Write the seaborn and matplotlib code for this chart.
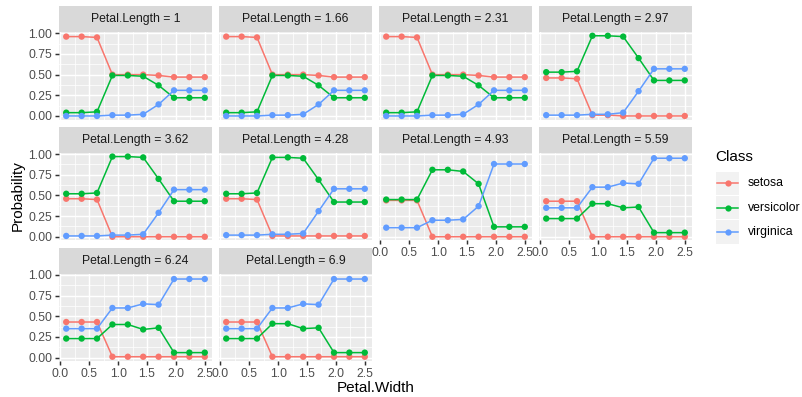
import pandas as pd
import seaborn as sns
import matplotlib.pyplot as plt
from matplotlib.patches import Rectangle
from matplotlib.lines import Line2D
from matplotlib.ticker import MultipleLocator, FormatStrFormatter

plt.rcParams['font.family'] = ['Liberation Sans', 'DejaVu Sans']

petal_width = [0.1, 0.367, 0.633, 0.9, 1.167, 1.433, 1.7, 1.967, 2.233, 2.5]
petal_length = ["1", "1.66", "2.31", "2.97", "3.62", "4.28", "4.93", "5.59", "6.24", "6.9"]
classes = ["setosa", "versicolor", "virginica"]
colors = ["#F8766D", "#00BA38", "#619CFF"]

# one row per Petal.Length panel, values along petal_width
setosa = [
    [.96, .96, .95, .50, .50, .50, .49, .47, .47, .47],
    [.96, .96, .95, .50, .50, .50, .49, .47, .47, .47],
    [.96, .96, .95, .50, .50, .50, .49, .47, .47, .47],
    [.46, .46, .45, .01, .01, .00, .00, .00, .00, .00],
    [.46, .46, .45, .00, .00, .00, .00, .00, .00, .00],
    [.46, .46, .45, .01, .01, .01, .01, .01, .01, .01],
    [.44, .44, .44, .00, .00, .00, .00, .00, .00, .00],
    [.43, .43, .43, .00, .00, .00, .00, .00, .00, .00],
    [.43, .43, .43, .01, .01, .01, .01, .01, .01, .01],
    [.43, .43, .43, .01, .01, .01, .01, .01, .01, .01],
]
versicolor = [
    [.04, .04, .05, .49, .49, .48, .37, .22, .22, .22],
    [.04, .04, .05, .49, .49, .48, .37, .22, .22, .22],
    [.04, .04, .05, .49, .49, .48, .37, .22, .22, .22],
    [.53, .53, .54, .97, .97, .96, .70, .43, .43, .43],
    [.52, .52, .53, .97, .97, .96, .70, .43, .43, .43],
    [.52, .52, .53, .96, .96, .95, .69, .42, .42, .42],
    [.45, .45, .45, .81, .81, .79, .64, .12, .12, .12],
    [.22, .22, .22, .40, .40, .35, .36, .05, .05, .05],
    [.23, .23, .23, .40, .40, .34, .36, .06, .06, .06],
    [.23, .23, .23, .41, .41, .35, .36, .06, .06, .06],
]
virginica = [
    [.00, .00, .00, .01, .01, .02, .14, .31, .31, .31],
    [.00, .00, .00, .01, .01, .02, .14, .31, .31, .31],
    [.00, .00, .00, .01, .01, .02, .14, .31, .31, .31],
    [.01, .01, .01, .02, .02, .04, .30, .57, .57, .57],
    [.01, .01, .01, .02, .02, .03, .29, .57, .57, .57],
    [.02, .02, .02, .03, .03, .04, .31, .58, .58, .58],
    [.11, .11, .11, .20, .20, .21, .37, .88, .88, .88],
    [.35, .35, .35, .60, .60, .65, .64, .95, .95, .95],
    [.35, .35, .35, .60, .60, .65, .64, .95, .95, .95],
    [.35, .35, .35, .60, .60, .65, .64, .95, .95, .95],
]

rows = []
for name, table in zip(classes, [setosa, versicolor, virginica]):
    for pl, vals in zip(petal_length, table):
        for pw, p in zip(petal_width, vals):
            rows.append({'Petal.Length': pl, 'Petal.Width': pw, 'Class': name, 'Probability': p})
df = pd.DataFrame(rows)

W, H = 803, 397
fig = plt.figure(figsize=(W / 100, H / 100), dpi=100)

def box(x, y, w, h):
    return [x / W, 1 - (y + h) / H, w / W, h / H]

col_left = [59.3, 219.3, 379.3, 539.3]
panel_w = 152.4
row_top = [6.0, 126.8, 247.6]
strip_h = 26.3
panel_h = 87.3

for i, pl in enumerate(petal_length):
    r, c = divmod(i, 4)
    ax = fig.add_axes(box(col_left[c], row_top[r] + strip_h, panel_w, panel_h))
    sub = df[df['Petal.Length'] == pl]
    # lines first, then points on top (like geom_line + geom_point)
    sns.lineplot(data=sub, x='Petal.Width', y='Probability', hue='Class',
                 hue_order=classes, palette=colors, linewidth=1.1,
                 estimator=None, legend=False, ax=ax)
    sns.scatterplot(data=sub, x='Petal.Width', y='Probability', hue='Class',
                    hue_order=classes, palette=colors, s=21, linewidth=0,
                    legend=False, ax=ax, zorder=3)
    ax.set_facecolor('#EBEBEB')
    for s in ax.spines.values():
        s.set_visible(False)
    ax.set_xlim(-0.02, 2.62)
    ax.set_ylim(-0.044, 1.012)
    ax.xaxis.set_major_locator(MultipleLocator(0.5))
    ax.xaxis.set_minor_locator(MultipleLocator(0.25))
    ax.yaxis.set_major_locator(MultipleLocator(0.25))
    ax.yaxis.set_minor_locator(MultipleLocator(0.125))
    ax.xaxis.set_major_formatter(FormatStrFormatter('%.1f'))
    ax.yaxis.set_major_formatter(FormatStrFormatter('%.2f'))
    ax.grid(which='major', color='white', linewidth=1.07)
    ax.grid(which='minor', color='white', linewidth=0.53)
    ax.set_axisbelow(True)
    ax.set_xlabel('')
    ax.set_ylabel('')
    show_x = i >= 6
    show_y = c == 0
    ax.tick_params(which='major', length=2.75, width=1.07, color='#333333',
                   labelcolor='#4D4D4D', labelsize=8.8, pad=2.2)
    ax.tick_params(which='minor', length=0)
    ax.tick_params(axis='x', bottom=show_x, labelbottom=show_x)
    ax.tick_params(axis='y', left=show_y, labelleft=show_y)

    sax = fig.add_axes(box(col_left[c], row_top[r], panel_w, strip_h))
    sax.set_facecolor('#D9D9D9')
    sax.set_xticks([])
    sax.set_yticks([])
    for s in sax.spines.values():
        s.set_visible(False)
    sax.text(0.5, 0.5, f'Petal.Length = {pl}', ha='center', va='center',
             fontsize=8.8, color='#1A1A1A', transform=sax.transAxes)

fig.text(18 / W, 1 - 196 / H, 'Probability', rotation=90, ha='center', va='center',
         fontsize=11, color='black')
fig.text(375.5 / W, 1 - 388 / H, 'Petal.Width', ha='center', va='center',
         fontsize=11, color='black')

# legend drawn in pixel coordinates
lax = fig.add_axes([0, 0, 1, 1], facecolor='none')
lax.set_xlim(0, W)
lax.set_ylim(H, 0)
lax.axis('off')
lax.text(715.5, 157, 'Class', fontsize=11, ha='left', va='center')
key_y = [183.3, 207.6, 231.9]
for ky, name, col in zip(key_y, classes, colors):
    lax.add_patch(Rectangle((716.3, ky - 11.6), 23, 23.2, facecolor='#F2F2F2', edgecolor='none'))
    lax.add_line(Line2D([717.5, 738], [ky, ky], color=col, linewidth=1.1))
    lax.add_line(Line2D([727.7], [ky], color=col, marker='o', markersize=4.5, markeredgewidth=0))
    lax.text(747.5, ky, name, fontsize=8.8, ha='left', va='center')

fig.savefig('out.png', dpi=100)
